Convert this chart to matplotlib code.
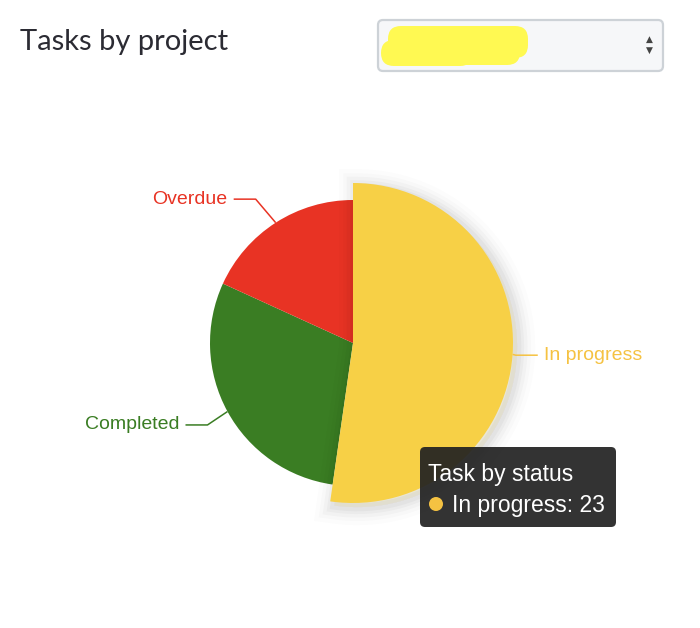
import matplotlib
matplotlib.use("Agg")
import matplotlib.pyplot as plt
import numpy as np
from matplotlib.patches import FancyBboxPatch, Circle
import matplotlib.patheffects as pe

# ---- data ----
categories = ["In progress", "Completed", "Overdue"]
values = [23, 13, 8]
colors = ["#F7D046", "#3A7D23", "#E83324"]
label_colors = ["#F5C242", "#3A7D23", "#E83324"]
title = "Tasks by project"
tooltip_title = "Task by status"
highlight_index = 0

W, H = 700, 628
fig = plt.figure(figsize=(W / 100, H / 100), dpi=100)
ax = fig.add_axes([0, 0, 1, 1])

def Y(y_img):
    return H - y_img

cx, cy = 353, Y(343)
R = 143
R_hover = 160

wedges, _ = ax.pie(values, colors=colors, startangle=90, counterclock=False,
                   center=(cx, cy), radius=R, frame=True,
                   wedgeprops=dict(linewidth=0))
ax.set_xlim(0, W)
ax.set_ylim(0, H)
ax.set_aspect("equal")
ax.axis("off")

# highlighted (hovered) slice: bigger with soft shadow
hw = wedges[highlight_index]
hw.set_radius(R_hover)
hw.set_zorder(5)
shadow = []
for lw, a in [(26, 0.012), (20, 0.016), (15, 0.022), (10, 0.028), (6, 0.032)]:
    shadow.append(pe.Stroke(linewidth=lw, foreground="black", alpha=a, offset=(3, -3)))
shadow.append(pe.Normal())
hw.set_path_effects(shadow)

# data labels with connectors
for i, w in enumerate(wedges):
    a = np.deg2rad((w.theta1 + w.theta2) / 2)
    r = w.r
    ax_, ay_ = cx + r * np.cos(a), cy + r * np.sin(a)
    ey = cy + (R + 28) * np.sin(a)
    s = 1 if np.cos(a) >= 0 else -1
    ex = ax_ + s * min(20, 2 + 1.5 * abs(ey - ay_))
    lx = ex + s * 22
    ax.plot([ax_, ex, lx], [ay_, ey, ey], color=label_colors[i], lw=1.1,
            zorder=6, solid_capstyle="butt")
    ax.text(lx + s * 6, ey, categories[i], color=label_colors[i],
            fontsize=14, family="Liberation Sans",
            ha="left" if s > 0 else "right", va="center", zorder=6)

# title
ax.text(20, Y(50), title, fontsize=21, family="Lato", color="#2b2b33",
        ha="left", va="baseline")

# select box
sel = FancyBboxPatch((378, Y(71)), 285, 51, boxstyle="round,pad=0,rounding_size=5",
                     facecolor="#f6f7f9", edgecolor="#cdd2d7", lw=1.6, zorder=2)
ax.add_patch(sel)
for (x0, y0, w_, h_) in [(388, 26, 140, 32), (381, 40, 92, 26), (420, 30, 100, 35)]:
    ax.add_patch(FancyBboxPatch((x0, Y(y0 + h_)), w_, h_,
                                boxstyle="round,pad=0,rounding_size=13",
                                facecolor="#FFF952", edgecolor="none", zorder=3))
ax.text(649, Y(39), "▲", fontsize=6.5, color="#444444", ha="center", va="center", zorder=4)
ax.text(649, Y(50), "▼", fontsize=6.5, color="#444444", ha="center", va="center", zorder=4)

# tooltip
tip = FancyBboxPatch((420, Y(527)), 196, 80, boxstyle="round,pad=0,rounding_size=5",
                     facecolor="#212121", edgecolor="none", alpha=0.92, zorder=10)
ax.add_patch(tip)
ax.text(428, Y(481), tooltip_title, fontsize=16.5, family="Liberation Sans",
        color="white", ha="left", va="baseline", zorder=11)
ax.add_patch(Circle((436, Y(504)), 7, facecolor=label_colors[highlight_index],
                    edgecolor="none", zorder=11))
ax.text(452, Y(512), f"{categories[highlight_index]}: {values[highlight_index]}",
        fontsize=16.5, family="Liberation Sans", color="white", ha="left",
        va="baseline", zorder=11)

fig.savefig("out.png", dpi=100, facecolor="white")
